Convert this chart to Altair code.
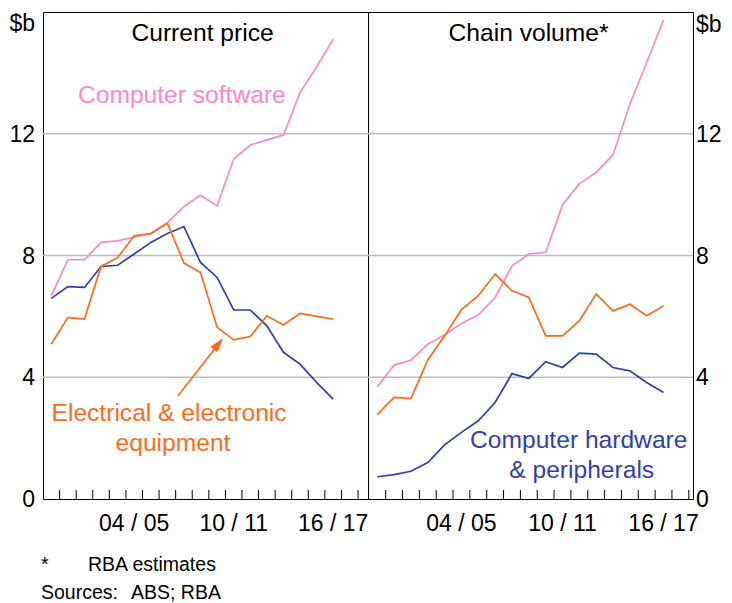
import altair as alt
import pandas as pd

# ---------------- data ----------------
years = ["99/00", "00/01", "01/02", "02/03", "03/04", "04/05", "05/06", "06/07", "07/08",
         "08/09", "09/10", "10/11", "11/12", "12/13", "13/14", "14/15", "15/16", "16/17"]

# Current price ($b)
cp_software = [6.68, 7.86, 7.86, 8.43, 8.48, 8.61, 8.72, 9.08, 9.61, 9.98, 9.63, 11.17,
               11.63, 11.8, 11.96, 13.35, 14.2, 15.1]
cp_hardware = [6.59, 6.98, 6.95, 7.64, 7.68, 8.05, 8.43, 8.72, 8.95, 7.77, 7.28, 6.21,
               6.21, 5.69, 4.82, 4.43, 3.83, 3.28]
cp_electrical = [5.09, 5.96, 5.91, 7.64, 7.93, 8.65, 8.72, 9.06, 7.75, 7.44, 5.64, 5.23,
                 5.34, 6.02, 5.72, 6.1, 6.0, 5.91]

# Chain volume ($b)
cv_software = [3.69, 4.4, 4.56, 5.09, 5.39, 5.77, 6.05, 6.62, 7.66, 8.05, 8.1, 9.66,
               10.36, 10.73, 11.31, 12.97, 14.34, 15.74]
cv_hardware = [0.73, 0.8, 0.91, 1.2, 1.78, 2.19, 2.57, 3.17, 4.12, 3.96, 4.51, 4.32,
               4.79, 4.76, 4.32, 4.21, 3.83, 3.5]
cv_electrical = [2.77, 3.34, 3.3, 4.57, 5.36, 6.22, 6.68, 7.39, 6.84, 6.62, 5.36, 5.36,
                 5.86, 6.73, 6.18, 6.4, 6.02, 6.35]

series_names = ["Computer software", "Computer hardware & peripherals",
                "Electrical & electronic equipment"]
series_colors = ["#FF88C4", "#2F3FB0", "#FF6B1A"]

labelled_years = ["04/05", "10/11", "16/17"]
labelled_text = ["04 / 05", "10 / 11", "16 / 17"]
y_label_values = [0, 4, 8, 12]
grid_values = [4, 8, 12]
minor_ticks = list(range(1, 20))

FONT = "Liberation Sans"
W, H = 325, 487
K = W / 330.0  # horizontal factor for annotation placement
PINK, BLUE, ORANGE = series_colors[0], series_colors[1], series_colors[2]
BIG = 24.6
AX = 23
SMALL = 19.5


def long_df(sw, hw, el):
    rows = []
    for name, vals in zip(series_names, [sw, hw, el]):
        for i, v in enumerate(vals):
            rows.append({"pos": i + 0.5, "year": years[i], "value": v, "series": name})
    return pd.DataFrame(rows)


label_pos = [years.index(y) + 0.5 for y in labelled_years]
xlab_df = pd.DataFrame({"pos": label_pos, "lab": labelled_text})
ylab_df = pd.DataFrame({"v": y_label_values})

one = alt.Data(values=[{}])


def text(t, x, y, color="black", size=BIG, align="center", baseline="alphabetic"):
    return alt.Chart(one).mark_text(
        text=t, font=FONT, fontSize=size, color=color, align=align, baseline=baseline
    ).encode(x=alt.value(x), y=alt.value(y))


def panel(df, domain, side, title, title_x, extra):
    xscale = alt.Scale(domain=domain, nice=False, zero=False)
    yscale = alt.Scale(domain=[0, 16], nice=False)
    grid = alt.Chart(pd.DataFrame({"g": grid_values})).mark_rule(
        color="#BDBDBD", strokeWidth=1.3
    ).encode(y=alt.Y("g:Q", scale=yscale, axis=None))
    ticks = alt.Chart(pd.DataFrame({"k": minor_ticks})).mark_rule(
        color="black", strokeWidth=1
    ).encode(x=alt.X("k:Q", scale=xscale, axis=None), y=alt.value(H), y2=alt.value(H - 9))
    lines = alt.Chart(df).mark_line(strokeWidth=1.7).encode(
        x=alt.X("pos:Q", scale=xscale, axis=None),
        y=alt.Y("value:Q", scale=yscale, axis=None),
        color=alt.Color("series:N", scale=alt.Scale(domain=series_names, range=series_colors),
                        legend=None),
        detail="series:N",
    )
    xlabels = alt.Chart(xlab_df).mark_text(
        font=FONT, fontSize=AX, color="black", align="center", baseline="alphabetic"
    ).encode(x=alt.X("pos:Q", scale=xscale, axis=None), y=alt.value(H + 32), text="lab:N")
    if side == "left":
        lx, la = -8, "right"
        sb = text("$b", -8, 19, size=AX, align="right")
    else:
        lx, la = W + 3, "left"
        sb = text("$b", W + 3, 20, size=AX, align="left")
    ylabels = alt.Chart(ylab_df).mark_text(
        font=FONT, fontSize=AX, color="black", align=la, baseline="alphabetic", dy=8
    ).encode(y=alt.Y("v:Q", scale=yscale, axis=None), x=alt.value(lx), text=alt.Text("v:Q"))
    layers = [grid, ticks, lines, xlabels, ylabels, text(title, title_x, 28.5), sb] + extra
    return alt.layer(*layers).properties(width=W, height=H)


left_extra = [
    text("Computer software", 141 * K, 90.5, color=PINK),
    text("Electrical & electronic", 128 * K, 408.5, color=ORANGE),
    text("equipment", 132 * K, 439, color=ORANGE),
    alt.Chart(one).mark_rule(color=ORANGE, strokeWidth=1.7).encode(
        x=alt.value(137 * K), y=alt.value(384), x2=alt.value(175 * K), y2=alt.value(336)),
    alt.Chart(one).mark_point(
        shape="M0,0L0.6,2L-0.6,2Z", filled=True, size=225, angle=38.4,
        color=ORANGE, opacity=1, strokeWidth=0
    ).encode(x=alt.value(183 * K), y=alt.value(326)),
    text("*", -2, 558.5, size=SMALL, align="left"),
    text("RBA estimates", 45, 558.5, size=SMALL, align="left"),
    text("Sources:", -2, 587, size=SMALL, align="left"),
    text("ABS; RBA", 88, 587, size=SMALL, align="left"),
]
right_extra = [
    text("Computer hardware", 214 * K, 436, color=BLUE),
    text("& peripherals", 217 * K, 465.5, color=BLUE),
]

left = panel(long_df(cp_software, cp_hardware, cp_electrical), [0, 19.6], "left",
             "Current price", 162 * K, left_extra)
right = panel(long_df(cv_software, cv_hardware, cv_electrical), [-0.05, 19.25], "right",
              "Chain volume*", 163 * K, right_extra)

chart = alt.hconcat(left, right, spacing=0, bounds="flush").properties(
    padding={"left": 0, "top": 3, "right": 0, "bottom": 0}
).configure(
    font=FONT, view=alt.ViewConfig(stroke="black", strokeWidth=1)
)

chart.save("out.html", embed_options={"renderer": "svg", "actions": False})
